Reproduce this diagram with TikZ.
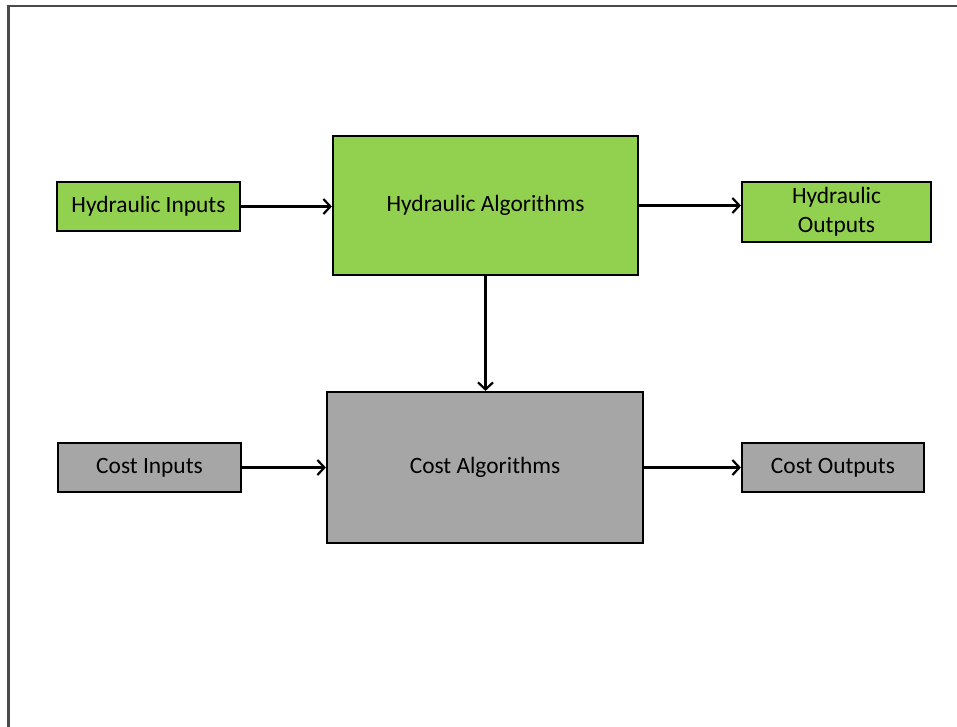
\documentclass[tikz,border=0pt]{standalone}
\usepackage{fontspec}
\setmainfont{Carlito}
\usetikzlibrary{arrows.meta}
\definecolor{hydgreen}{HTML}{92D050}
\definecolor{costgray}{HTML}{A6A6A6}
\definecolor{framegray}{HTML}{4A4A4A}
\begin{document}
\begin{tikzpicture}[x=1pt,y=-1pt,
  box/.style={draw=black, line width=2.2pt, inner sep=0pt, align=center,
    font=\fontsize{23.4}{28.5}\selectfont},
  hydbox/.style={box, fill=hydgreen},
  costbox/.style={box, fill=costgray},
  conn/.style={line width=2.2pt, -{Straight Barb[length=7pt,width=15pt,line width=2.2pt]}}]
\useasboundingbox (0,0) rectangle (957,726);
\draw[line width=2.2pt, framegray] (8.5,740) -- (8.5,6) -- (970,6);
\node[hydbox, minimum width=183pt, minimum height=49pt] (hi) at (148.5,206.5) {Hydraulic Inputs};
\node[hydbox, minimum width=305pt, minimum height=139pt] (ha) at (485.5,205.5) {Hydraulic Algorithms};
\node[hydbox, minimum width=189pt, minimum height=60pt] (ho) at (836.5,212) {Hydraulic\\Outputs};
\node[costbox, minimum width=183pt, minimum height=49pt] (ci) at (149.5,467.5) {Cost Inputs};
\node[costbox, minimum width=316pt, minimum height=151pt] (ca) at (485,467.5) {Cost Algorithms};
\node[costbox, minimum width=182pt, minimum height=49pt] (co) at (833,467.5) {Cost Outputs};
\draw[conn] (ha.east) -- (ha.east -| ho.west);
\draw[conn] (hi.east) -- (hi.east -| ha.west);
\draw[conn] (ha.south) -- (ha.south |- ca.north);
\draw[conn] (ci.east) -- (ci.east -| ca.west);
\draw[conn] (ca.east) -- (ca.east -| co.west);
\end{tikzpicture}
\end{document}
